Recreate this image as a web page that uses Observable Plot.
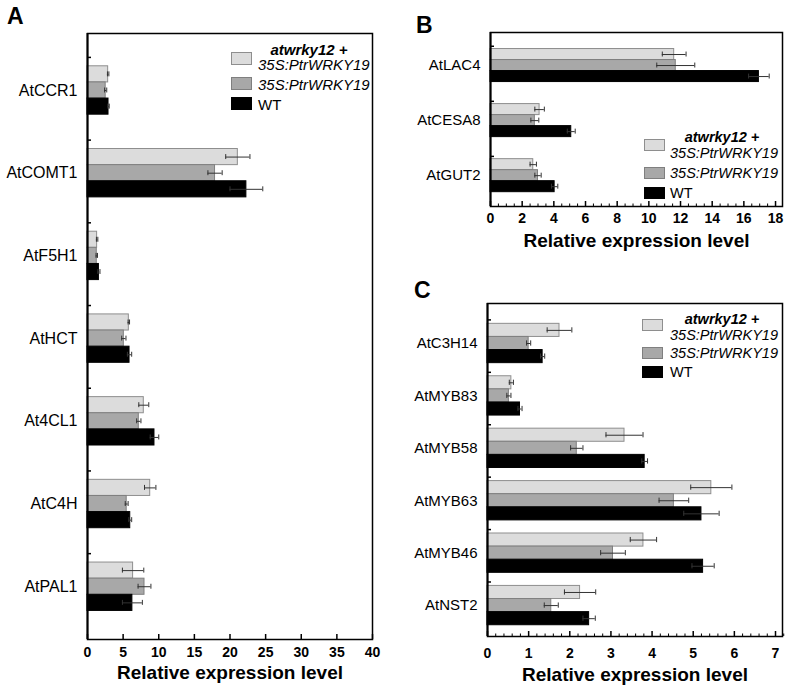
<!DOCTYPE html>
<html>
<head>
<meta charset="utf-8">
<script src="https://cdn.jsdelivr.net/npm/d3@7"></script>
<script src="https://cdn.jsdelivr.net/npm/@observablehq/plot@0.6"></script>
<style>
  html, body { margin: 0; padding: 0; background: #fff; }
  #root { position: relative; width: 787px; height: 686px; overflow: hidden; font-family: "Liberation Sans", Arial, sans-serif; color: #000; }
  .abs { position: absolute; }
  .lbl { position: absolute; line-height: 1; white-space: nowrap; transform: translateY(-50%); }
  .box { position: absolute; box-sizing: border-box; }
  .letter { position: absolute; line-height: 1; font-weight: bold; font-size: 23px; }
</style>
</head>
<body>
<div id="root"></div>
<script>
// ---------- data ----------
const seriesTop = "atwrky12 +";
const seriesSub = "35S:PtrWRKY19";
const series = ["atwrky12 + 35S:PtrWRKY19", "35S:PtrWRKY19", "WT"];
const axisTitle = "Relative expression level";

// Panel A
const genesA = ["AtCCR1", "AtCOMT1", "AtF5H1", "AtHCT", "At4CL1", "AtC4H", "AtPAL1"];
const dblA    = [2.9, 21.1, 1.35, 5.8, 7.9, 8.8, 6.4];
const dblErrA = [0.1, 1.7, 0.1, 0.1, 0.7, 0.8, 1.5];
const oxA     = [2.55, 17.9, 1.3, 5.1, 7.2, 5.5, 8.0];
const oxErrA  = [0.15, 1.0, 0.1, 0.3, 0.3, 0.2, 0.9];
const wtA     = [2.95, 22.3, 1.6, 5.9, 9.4, 6.0, 6.3];
const wtErrA  = [0.1, 2.3, 0.15, 0.3, 0.6, 0.2, 1.4];
const ticksA  = [0, 5, 10, 15, 20, 25, 30, 35, 40];
const minorA  = [];

// Panel B
const genesB = ["AtLAC4", "AtCESA8", "AtGUT2"];
const dblB    = [11.6, 3.1, 2.7];
const dblErrB = [0.75, 0.3, 0.2];
const oxB     = [11.7, 2.8, 3.0];
const oxErrB  = [1.2, 0.25, 0.2];
const wtB     = [16.95, 5.1, 4.05];
const wtErrB  = [0.65, 0.25, 0.2];
const ticksB  = [0, 2, 4, 6, 8, 10, 12, 14, 16, 18];
const minorB  = [0.5, 1, 1.5, 2.5, 3, 3.5, 4.5, 5, 5.5, 6.5, 7, 7.5, 8.5, 9, 9.5, 10.5, 11, 11.5, 12.5, 13, 13.5, 14.5, 15, 15.5, 16.5, 17, 17.5];

// Panel C
const genesC = ["AtC3H14", "AtMYB83", "AtMYB58", "AtMYB63", "AtMYB46", "AtNST2"];
const dblC    = [1.75, 0.58, 3.33, 5.44, 3.79, 2.25];
const dblErrC = [0.3, 0.05, 0.45, 0.5, 0.32, 0.38];
const oxC     = [1.0, 0.52, 2.17, 4.53, 3.05, 1.55];
const oxErrC  = [0.05, 0.05, 0.15, 0.36, 0.3, 0.17];
const wtC     = [1.34, 0.79, 3.82, 5.2, 5.24, 2.47];
const wtErrC  = [0.05, 0.05, 0.07, 0.43, 0.27, 0.15];
const ticksC  = [0, 1, 2, 3, 4, 5, 6, 7];
const minorC  = [0.2, 0.4, 0.6, 0.8, 1.2, 1.4, 1.6, 1.8, 2.2, 2.4, 2.6, 2.8, 3.2, 3.4, 3.6, 3.8, 4.2, 4.4, 4.6, 4.8, 5.2, 5.4, 5.6, 5.8, 6.2, 6.4, 6.6, 6.8, 7.2];

// ---------- style ----------
const fills   = ["#dcdcdc", "#a8a8a8", "#000000"];
const strokes = ["#8e8e8e", "#7f7f7f", "#000000"];
const FONT = "'Liberation Sans', Arial, sans-serif";

function panel(cfg) {
  const values = [cfg.dbl, cfg.ox, cfg.wt];
  const errors = [cfg.dblErr, cfg.oxErr, cfg.wtErr];
  const rows = [];
  cfg.genes.forEach((g, i) => {
    values.forEach((vals, s) => rows.push({gene: g, i, s, series: series[s], v: vals[i], e: errors[s][i]}));
  });
  const bw = cfg.band;
  const yc = d => d.i + (d.s - 1) * bw;
  const cap = cfg.cap;
  const boundaries = cfg.genes.map((g, i) => i - cfg.boundaryOffset);
  return Plot.plot({
    width: cfg.width,
    height: cfg.height,
    marginLeft: cfg.ml, marginRight: cfg.mr, marginTop: cfg.mt, marginBottom: cfg.mb,
    x: {domain: cfg.xDomain, label: null},
    y: {domain: cfg.yDomain, reverse: true, label: null},
    color: {type: "identity"},
    style: {fontFamily: FONT, color: "#000", background: "transparent", overflow: "visible"},
    marks: [
      Plot.rect(rows, {x1: () => 0, x2: "v", y1: d => yc(d) - bw / 2, y2: d => yc(d) + bw / 2,
        fill: d => fills[d.s], stroke: d => strokes[d.s], strokeWidth: 1}),
      Plot.ruleY(rows, {y: yc, x1: d => d.v - d.e, x2: d => d.v + d.e, stroke: "#333", strokeWidth: 1}),
      Plot.ruleX(rows, {x: d => d.v - d.e, y1: d => yc(d) - cap, y2: d => yc(d) + cap, stroke: "#333", strokeWidth: 1}),
      Plot.ruleX(rows, {x: d => d.v + d.e, y1: d => yc(d) - cap, y2: d => yc(d) + cap, stroke: "#333", strokeWidth: 1}),
      Plot.axisX({ticks: cfg.ticks, tickSize: -5, tickFormat: () => "", label: null, strokeWidth: 1.5}),
      Plot.axisX({ticks: cfg.minor, tickSize: -2.5, tickFormat: () => "", label: null, strokeWidth: 1}),
      Plot.axisX({ticks: cfg.ticks, tickSize: 0, tickPadding: cfg.xPad, label: null,
        fontSize: 14, fontWeight: "bold", tickFormat: d => String(d)}),
      Plot.axisY({ticks: cfg.genes.map((g, i) => i), tickSize: 0, tickPadding: 10, label: null,
        fontSize: cfg.catFont, tickFormat: i => cfg.genes[i]}),
      Plot.axisY({ticks: boundaries, tickSize: -4, tickFormat: () => "", label: null, strokeWidth: 1.5}),
      Plot.ruleX([0], {stroke: "#000", strokeWidth: 2}),
      Plot.frame({stroke: "#000", strokeWidth: 1.5}),
      Plot.text([axisTitle], {frameAnchor: "bottom", lineAnchor: "middle", dy: cfg.titleDy, fontSize: 19, fontWeight: "bold", fill: "#000"})
    ]
  });
}

const root = document.getElementById("root");
function place(node, left, top) {
  const wrap = document.createElement("div");
  wrap.className = "abs";
  wrap.style.left = left + "px";
  wrap.style.top = top + "px";
  wrap.appendChild(node);
  root.appendChild(wrap);
}

// Panel A: frame x 87-372, y 33-639
place(panel({
  genes: genesA, dbl: dblA, dblErr: dblErrA, ox: oxA, oxErr: oxErrA, wt: wtA, wtErr: wtErrA,
  ticks: ticksA, minor: minorA, xDomain: [0, 40], yDomain: [-0.689, 6.638],
  band: 0.195, cap: 0.03, boundaryOffset: 0.4,
  width: 400, height: 686, ml: 87, mr: 28, mt: 33, mb: 47, xPad: 8, titleDy: 33, catFont: 16
}), 0, 0);

// Panel B: frame x 490-782, y 32-206
place(panel({
  genes: genesB, dbl: dblB, dblErr: dblErrB, ox: oxB, oxErr: oxErrB, wt: wtB, wtErr: wtErrB,
  ticks: ticksB, minor: minorB, xDomain: [0, 18.44], yDomain: [-0.6, 2.56],
  band: 0.2, cap: 0.045, boundaryOffset: 0.35,
  width: 387, height: 250, ml: 90, mr: 5, mt: 32, mb: 44, xPad: 7, titleDy: 34, catFont: 15
}), 400, 0);

// Panel C: frame x 487-782, y 303-636
place(panel({
  genes: genesC, dbl: dblC, dblErr: dblErrC, ox: oxC, oxErr: oxErrC, wt: wtC, wtErr: wtErrC,
  ticks: ticksC, minor: minorC, xDomain: [0, 7.17], yDomain: [-0.763, 5.59],
  band: 0.25, cap: 0.05, boundaryOffset: 0.45,
  width: 387, height: 426, ml: 87, mr: 5, mt: 43, mb: 50, xPad: 12, titleDy: 38, catFont: 15
}), 400, 260);

// ---------- legends (HTML) ----------
function text(str, left, cy, size, style, weight, center) {
  const d = document.createElement("div");
  d.className = "lbl";
  d.textContent = str;
  d.style.top = cy + "px";
  d.style.fontSize = size + "px";
  d.style.fontStyle = style;
  d.style.fontWeight = weight;
  if (center) { d.style.left = left + "px"; d.style.transform = "translate(-50%, -50%)"; }
  else d.style.left = left + "px";
  root.appendChild(d);
}
function box(s, left, top, w, h) {
  const d = document.createElement("div");
  d.className = "box";
  Object.assign(d.style, {left: left + "px", top: top + "px", width: w + "px", height: h + "px",
    background: fills[s], border: "1px solid " + strokes[s]});
  root.appendChild(d);
}
function legend(L) {
  box(0, L.bx, L.r1, L.bw, L.bh);
  text(seriesTop, L.c1, L.t1a, L.fs, "italic", "bold", true);
  text(seriesSub, L.tx, L.t1b, L.fs, "italic", "normal", false);
  box(1, L.bx, L.r2, L.bw, L.bh);
  text(series[1], L.tx, L.t2, L.fs, "italic", "normal", false);
  box(2, L.bx, L.r3, L.bw, L.bh);
  text(series[2], L.tx, L.t3, L.fs, "normal", "normal", false);
}
legend({bx: 231, bw: 21, bh: 13, r1: 52, r2: 77, r3: 97, c1: 309, t1a: 48.5, tx: 258, t1b: 64, t2: 84, t3: 104, fs: 15});
legend({bx: 644, bw: 21, bh: 12, r1: 139, r2: 167, r3: 187, c1: 722, t1a: 137, tx: 670, t1b: 152.5, t2: 173, t3: 193, fs: 14.5});
legend({bx: 642, bw: 21, bh: 12, r1: 319, r2: 347, r3: 366, c1: 722, t1a: 319, tx: 670, t1b: 334.5, t2: 353, t3: 372, fs: 14.5});

// ---------- panel letters ----------
[["A", 7, 5], ["B", 416, 14], ["C", 414, 279]].forEach(([t, x, y]) => {
  const d = document.createElement("div");
  d.className = "letter";
  d.textContent = t;
  d.style.left = x + "px";
  d.style.top = y + "px";
  root.appendChild(d);
});
</script>
</body>
</html>
